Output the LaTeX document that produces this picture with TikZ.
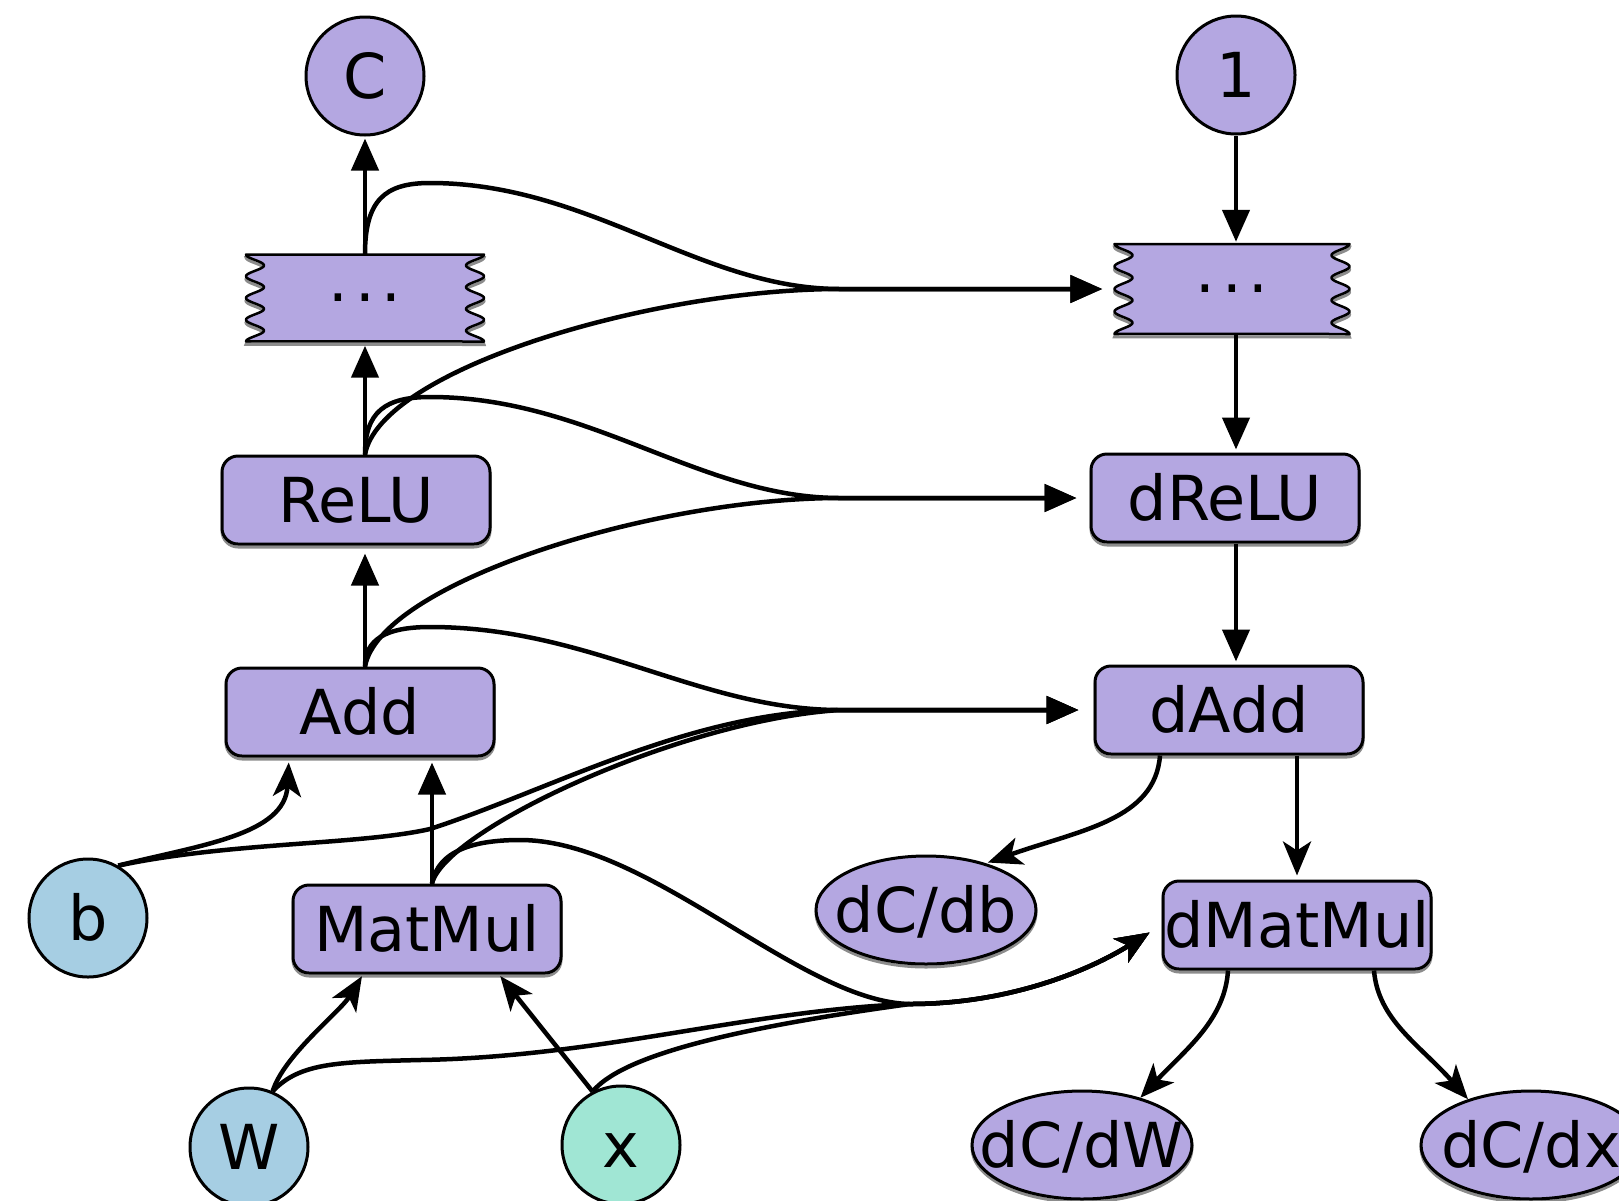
\documentclass[tikz,border=0pt]{standalone}
\usepackage{fontspec}
\setmainfont{DejaVu Sans}
\usetikzlibrary{arrows.meta,shapes.geometric}

\definecolor{opfill}{HTML}{B4A7E1}
\definecolor{paramfill}{HTML}{A6CEE3}
\definecolor{inputfill}{HTML}{A0E6D4}

\tikzset{
  lbl/.style={font=\fontsize{62pt}{74pt}\selectfont, inner sep=0pt, text height=45pt, text depth=0pt},
  softshadow/.style={preaction={draw=black!45, line width=3pt, transform canvas={yshift=-3pt}}},
  opbox/.style={lbl, rectangle, rounded corners=16pt, draw=black, line width=3pt, fill=opfill,
                minimum width=268pt, minimum height=88pt, softshadow},
  valnode/.style={lbl, circle, draw=black, line width=3pt, minimum size=118pt},
  gradnode/.style={lbl, ellipse, draw=black, line width=3pt, fill=opfill,
                   minimum width=220pt, minimum height=108pt, softshadow},
  dotslbl/.style={font=\fontsize{62pt}{74pt}\selectfont, inner sep=0pt},
  wire/.style={line width=4.5pt, -{Triangle[length=32pt,width=27pt]}},
  barbed/.style={line width=4.5pt, -{Stealth[length=34pt,width=28pt,inset=9pt]}},
}

% box with wavy left and right sides: centre x, centre y, width, height
\newcommand\wavyoutline[4]{%
  \filldraw[fill=opfill, draw=black, line width=2.5pt, line join=round,
            preaction={draw=black!45, line width=3pt, transform canvas={yshift=-3pt}}]
    plot[domain=0:1, samples=97, variable=\t]
      ({#1-#3/2+9*(1-cos(1440*\t))}, {#2-#4/2+#4*\t})
    -- plot[domain=1:0, samples=97, variable=\t]
      ({#1+#3/2-9*(1-cos(1440*\t))}, {#2-#4/2+#4*\t})
    -- cycle;}

\begin{document}
\begin{tikzpicture}[x=1pt,y=-1pt]
\clip (0,0) rectangle (1619,1200);
\fill[white] (0,0) rectangle (1619,1200);

% wavy outlines of the two elided blocks
\wavyoutline{365}{298}{238}{87}
\wavyoutline{1232}{289}{235}{90}

% forward graph
\node[valnode, fill=opfill] (C) at (365,76) {C};
\node[dotslbl, minimum width=238pt, minimum height=87pt] (dotsL) at (365,298) {.\kern7pt.\kern7pt.};
\node[opbox] (ReLU) at (356,500) {ReLU};
\node[opbox] (Add) at (360,712) {Add};
\node[opbox] (MatMul) at (427,929) {MatMul};
\node[valnode, fill=paramfill] (b) at (88,918) {b};
\node[valnode, fill=paramfill] (W) at (249,1147) {W};
\node[valnode, fill=inputfill] (x) at (621,1145) {x};

% backward graph
\node[valnode, fill=opfill] (one) at (1236,75) {1};
\node[dotslbl, minimum width=235pt, minimum height=90pt] (dotsR) at (1232,289) {.\kern7pt.\kern7pt.};
\node[opbox] (dReLU) at (1225,498) {dReLU};
\node[opbox] (dAdd) at (1229,710) {dAdd};
\node[opbox] (dMatMul) at (1297,925) {dMatMul};
\node[gradnode] (dCdb) at (926,910) {\makebox[0pt]{dC/db}};
\node[gradnode] (dCdW) at (1082,1145) {\makebox[0pt]{dC/dW}};
\node[gradnode] (dCdx) at (1531,1145) {\makebox[0pt]{dC/dx}};

% forward edges
\draw[wire, shorten >=2pt] (dotsL.north) -- (C.south);
\draw[wire, shorten >=4pt] (ReLU.north -| dotsL) -- (dotsL.south);
\draw[wire, shorten >=8pt] (Add.north -| dotsL) -- (ReLU.south -| dotsL);
\draw[wire, shorten >=5pt] ([xshift=5pt]MatMul.north) -- ([xshift=5pt]MatMul.north |- Add.south);
\draw[barbed, shorten >=5pt] (b.60) .. controls (200,845) and (285,835) .. ([xshift=-71pt]Add.south);
\draw[barbed, shorten >=2pt] (W.67) .. controls (284,1055) and (340,1012) .. ([xshift=-64pt]MatMul.south);
\draw[barbed, shorten >=2pt] (x.118) -- ([xshift=72pt]MatMul.south);

% backward chain
\draw[wire, shorten >=2pt] (one.south) -- (dotsR.north -| one);
\draw[wire, shorten >=3pt] (dotsR.south -| one) -- (dReLU.north -| one);
\draw[wire, shorten >=3pt] (dReLU.south -| one) -- (dAdd.north -| one);
\draw[barbed, shorten >=4pt] (dAdd.south -| dMatMul) -- (dMatMul.north);
\draw[barbed, shorten >=2pt] ([xshift=-69pt]dAdd.south) .. controls (1155,820) and (1080,830) .. (dCdb.38);
\draw[barbed] ([xshift=-69pt]dMatMul.south) .. controls (1225,1020) and (1185,1050) .. (dCdW.39);
\draw[barbed] ([xshift=77pt]dMatMul.south) .. controls (1378,1020) and (1420,1045) .. (dCdx.144);

% forward values feeding the backward ops
\draw[wire, shorten >=12pt] (dotsL.north) .. controls (365,200) and (385,183) .. (430,183)
  .. controls (590,183) and (700,289) .. (840,289) -- (dotsR.west);
\draw[wire, shorten >=12pt] (ReLU.north -| dotsL) .. controls (380,370) and (650,289) .. (840,289) -- (dotsR.west);

\draw[wire, shorten >=13pt] (ReLU.north -| dotsL) .. controls (365,412) and (385,397) .. (430,397)
  .. controls (590,397) and (700,498) .. (840,498) -- (dReLU.west);
\draw[wire, shorten >=13pt] (Add.north -| dotsL) .. controls (380,584) and (650,498) .. (840,498) -- (dReLU.west);

\draw[wire, shorten >=15pt] (Add.north -| dotsL) .. controls (365,640) and (385,627) .. (430,627)
  .. controls (590,627) and (700,710) .. (840,710) -- (dAdd.west);
\draw[wire, shorten >=15pt] (b.60) .. controls (230,842) and (360,845) .. (430,829)
  .. controls (550,790) and (690,712) .. (840,710) -- (dAdd.west);
\draw[wire, shorten >=15pt] ([xshift=5pt]MatMul.north) .. controls (445,830) and (680,720) .. (840,710) -- (dAdd.west);

\draw[barbed, shorten >=14pt] ([xshift=5pt]MatMul.north) .. controls (438,850) and (475,840) .. (520,840)
  .. controls (650,840) and (800,1002) .. (910,1004)
  .. controls (1010,1004) and (1090,970) .. (dMatMul.west);
\draw[barbed, shorten >=14pt] (W.67) .. controls (300,1062) and (340,1062) .. (420,1060)
  .. controls (600,1057) and (750,1010) .. (910,1004)
  .. controls (1010,1004) and (1090,970) .. (dMatMul.west);
\draw[barbed, shorten >=14pt] (x.118) .. controls (620,1058) and (720,1030) .. (910,1004)
  .. controls (1010,1004) and (1090,970) .. (dMatMul.west);
\end{tikzpicture}
\end{document}
